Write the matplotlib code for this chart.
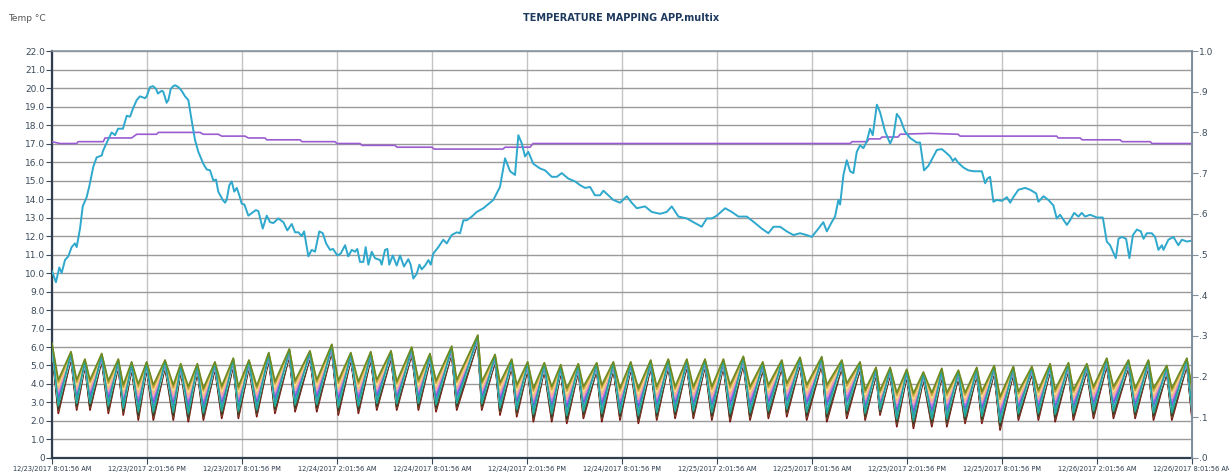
import datetime
import matplotlib
matplotlib.use('Agg')
import matplotlib.pyplot as plt

# time is hours since 12/23/2017 8:01:56 AM
ambient_t = [0.00, 0.25, 0.46, 0.61, 0.82, 1.03, 1.24, 1.45, 1.56, 1.77, 1.94, 2.19, 2.36, 2.61, 2.82,
             3.14, 3.22, 3.54, 3.77, 3.98, 4.17, 4.48, 4.72, 4.93, 5.12, 5.35, 5.56, 5.87, 5.98, 6.19,
             6.38, 6.57, 6.69, 6.93, 7.03, 7.24, 7.35, 7.50, 7.66, 7.77, 7.98, 8.19, 8.40, 8.61, 8.82,
             9.03, 9.24, 9.56, 9.77, 9.98, 10.19, 10.36, 10.50, 10.78, 10.93, 11.03, 11.20, 11.35, 11.51,
             11.67, 11.83, 11.98, 12.15, 12.40, 12.71, 12.88, 13.03, 13.31, 13.56, 13.77, 13.98, 14.29,
             14.61, 14.86, 15.14, 15.35, 15.56, 15.77, 15.92, 16.19, 16.40, 16.61, 16.88, 17.10, 17.31,
             17.56, 17.75, 18.02, 18.23, 18.51, 18.71, 18.93, 19.14, 19.28, 19.45, 19.66, 19.81, 19.98,
             20.19, 20.40, 20.72, 20.82, 21.03, 21.18, 21.30, 21.52, 21.77, 21.98, 22.23, 22.50, 22.65,
             22.82, 23.03, 23.20, 23.35, 23.56, 23.77, 23.92, 24.08, 24.40, 24.71, 24.93, 25.24, 25.56,
             25.77, 25.98, 26.19, 26.51, 26.82, 27.24, 27.87, 28.29, 28.61, 28.93, 29.24, 29.45, 29.67,
             29.87, 30.08, 30.40, 30.82, 31.14, 31.56, 31.88, 32.19, 32.61, 33.03, 33.35, 33.66, 33.98,
             34.29, 34.61, 34.82, 35.13, 35.45, 35.87, 36.30, 36.61, 36.93, 37.45, 37.88, 38.40, 38.82,
             39.14, 39.56, 40.09, 40.50, 41.03, 41.35, 41.67, 41.98, 42.51, 42.93, 43.35, 43.88, 44.40,
             44.82, 45.24, 45.56, 45.98, 46.40, 46.82, 47.24, 47.66, 47.98, 48.40, 48.71, 48.93, 49.24,
             49.45, 49.66, 49.77, 49.98, 50.19, 50.40, 50.61, 50.82, 51.03, 51.24, 51.45, 51.66, 51.83,
             52.09, 52.29, 52.61, 52.93, 53.14, 53.35, 53.56, 53.87, 54.19, 54.61, 54.82, 55.07, 55.35,
             55.66, 55.88, 56.19, 56.40, 56.72, 56.89, 57.03, 57.24, 57.56, 57.87, 58.19, 58.72, 58.93,
             59.07, 59.24, 59.45, 59.66, 59.98, 60.30, 60.51, 60.71, 61.03, 61.45, 61.77, 62.15, 62.29,
             62.61, 62.92, 63.24, 63.45, 63.66, 64.09, 64.29, 64.55, 64.82, 65.03, 65.24, 65.56, 65.98,
             66.36, 66.61, 66.82, 67.18, 67.35, 67.56, 67.83, 68.04, 68.26, 68.51, 68.76, 68.93, 69.14,
             69.45, 69.66, 69.87, 70.09, 70.19, 70.50, 70.82, 71.13, 71.35, 71.67, 71.98]
ambient_v = [10.1, 9.5, 10.3, 10.0, 10.7, 10.9, 11.4, 11.6, 11.4, 12.4, 13.6, 14.1, 14.7, 15.75, 16.25,
             16.35, 16.6, 17.2, 17.6, 17.45, 17.8, 17.8, 18.5, 18.45, 18.9, 19.35, 19.55, 19.45, 19.55, 20.05,
             20.1, 19.95, 19.7, 19.85, 19.8, 19.2, 19.35, 19.95, 20.1, 20.15, 20.05, 19.85, 19.55, 19.35, 18.25,
             17.2, 16.55, 15.9, 15.6, 15.55, 15.0, 15.05, 14.4, 13.95, 13.8, 13.95, 14.75, 14.95, 14.4,
             14.6, 14.2, 13.75, 13.7, 13.1, 13.3, 13.4, 13.35, 12.4, 13.1, 12.75, 12.7, 12.95,
             12.75, 12.3, 12.65, 12.2, 12.2, 12.0, 12.25, 10.9, 11.25, 11.15, 12.25, 12.15, 11.6,
             11.25, 11.3, 10.95, 11.05, 11.5, 10.9, 11.25, 11.15, 11.3, 10.6, 10.6, 11.4, 10.45,
             11.15, 10.8, 10.7, 10.45, 11.25, 11.3, 10.45, 10.95, 10.4, 10.95, 10.35, 10.75, 10.45,
             9.7, 9.95, 10.45, 10.2, 10.4, 10.7, 10.45, 11.05, 11.4, 11.8, 11.6, 12.05, 12.2,
             12.15, 12.85, 12.85, 13.05, 13.3, 13.5, 13.95, 14.65, 16.2, 15.5, 15.3, 17.45, 17.0,
             16.3, 16.55, 15.9, 15.65, 15.55, 15.2, 15.2, 15.4, 15.1, 14.95, 14.75, 14.6, 14.65,
             14.2, 14.2, 14.45, 14.2, 13.95, 13.8, 14.15, 13.8, 13.5, 13.6, 13.3, 13.2, 13.3,
             13.6, 13.05, 12.95, 12.75, 12.5, 12.95, 12.95, 13.1, 13.5, 13.3, 13.05, 13.05, 12.7,
             12.4, 12.15, 12.5, 12.5, 12.25, 12.05, 12.15, 12.05, 11.95, 12.4, 12.75, 12.25, 12.75,
             13.05, 13.95, 13.7, 15.3, 16.1, 15.5, 15.4, 16.55, 16.9, 16.75, 17.1, 17.8, 17.45,
             19.1, 18.7, 17.65, 17.0, 17.4, 18.6, 18.35, 17.65, 17.3, 17.05, 17.05, 15.55, 15.8,
             16.3, 16.65, 16.7, 16.55, 16.3, 16.05, 16.2, 15.95, 15.7, 15.55, 15.5, 15.5, 14.85,
             15.1, 15.2, 13.85, 13.95, 13.9, 14.1, 13.8, 14.1, 14.5, 14.6, 14.5, 14.3, 13.85,
             14.15, 13.95, 13.65, 12.95, 13.15, 12.6, 12.85, 13.25, 13.05, 13.25, 13.05, 13.15, 13.0,
             13.0, 11.7, 11.5, 10.8, 11.85, 11.95, 11.85, 10.8, 12.05, 12.35, 12.25, 11.85, 12.15,
             12.15, 11.95, 11.25, 11.5, 11.25, 11.8, 11.95, 11.5, 11.8, 11.7, 11.75]

humid_t = [0.00, 0.51, 1.56, 1.66, 3.24, 3.35, 5.03, 5.35, 6.61, 6.71, 9.35, 9.56, 10.50, 10.72,
           12.19, 12.40, 13.45, 13.56, 15.66, 15.79, 17.87, 18.00, 19.45, 19.58, 21.66, 21.79, 24.00,
           24.13, 28.48, 28.61, 30.19, 30.38, 50.40, 50.53, 51.48, 51.60, 52.29, 52.42, 53.43, 53.56,
           55.45, 57.22, 57.35, 63.45, 63.54, 64.93, 65.05, 67.45, 67.58, 69.35, 69.47, 72.00]
humid_v = [17.1, 17.0, 17.0, 17.1, 17.1, 17.3, 17.3, 17.5, 17.5, 17.6, 17.6, 17.5, 17.5, 17.4,
           17.4, 17.3, 17.3, 17.2, 17.2, 17.1, 17.1, 17.0, 17.0, 16.9, 16.9, 16.8, 16.8,
           16.7, 16.7, 16.8, 16.8, 17.0, 17.0, 17.1, 17.1, 17.25, 17.25, 17.35, 17.35, 17.5,
           17.55, 17.5, 17.4, 17.4, 17.3, 17.3, 17.2, 17.2, 17.1, 17.1, 17.0, 17.0]

# probe cycles: peak of the warmest probe, troughs of warmest / coldest probe
start_val = 6.2
peak_t = [1.20, 2.08, 3.14, 4.19, 5.03, 5.98, 7.14, 8.13, 9.18, 10.29, 11.45, 12.44, 13.69, 14.99,
          16.29, 17.67, 18.87, 20.13, 21.41, 22.72, 23.87, 25.24, 26.89, 27.98, 29.03, 30.04, 31.09,
          32.13, 33.24, 34.40, 35.45, 36.55, 37.81, 38.92, 40.09, 41.24, 42.40, 43.66, 44.89, 46.09,
          47.24, 48.61, 49.88, 51.03, 52.04, 52.93, 53.98, 55.03, 56.19, 57.24, 58.40, 59.50, 60.71,
          61.88, 63.03, 64.19, 65.35, 66.61, 67.98, 69.24, 70.40, 71.67]
peak_v = [5.75, 5.35, 5.65, 5.35, 5.2, 5.2, 5.3, 5.1, 5.1, 5.2, 5.4, 5.3, 5.7, 5.9, 5.8, 6.15, 5.7,
          5.75, 5.8, 6.0, 5.65, 6.05, 6.65, 5.6, 5.35, 5.2, 5.15, 5.05, 5.1, 5.15, 5.2, 5.2, 5.3, 5.35,
          5.35, 5.35, 5.35, 5.5, 5.2, 5.3, 5.45, 5.48, 5.3, 5.2, 4.9, 4.9, 4.8, 4.65, 4.85, 4.75, 4.9,
          5.0, 4.95, 4.95, 5.1, 5.15, 5.1, 5.4, 5.3, 5.3, 5.0, 5.4]
trough_t = [0.40, 1.56, 2.40, 3.56, 4.50, 5.45, 6.40, 7.66, 8.61, 9.56, 10.72, 11.77, 12.93, 14.08,
            15.35, 16.72, 18.08, 19.35, 20.51, 21.77, 23.14, 24.25, 25.56, 27.14, 28.29, 29.35, 30.40,
            31.56, 32.51, 33.56, 34.72, 35.87, 37.03, 38.19, 39.35, 40.50, 41.67, 42.82, 44.08, 45.24,
            46.40, 47.66, 48.93, 50.19, 51.35, 52.29, 53.35, 54.40, 55.56, 56.51, 57.66, 58.72, 59.87,
            61.03, 62.29, 63.35, 64.50, 65.77, 67.03, 68.40, 69.56, 70.72, 71.98]
trough_hi = [4.22, 4.22, 4.22, 4.18, 3.95, 4.0, 3.95, 3.95, 3.86, 3.77, 3.89, 3.86, 3.89, 4.13, 4.18,
             4.22, 4.18, 4.13, 4.22, 4.13,
             4.22, 4.18, 4.22, 4.13, 4.07, 3.95, 3.77, 3.86, 3.77, 3.86, 3.95, 3.77, 3.77, 3.86, 3.86,
             3.86, 3.86, 3.95, 3.86, 3.95, 4.04, 3.95,
             3.95, 4.04, 3.68, 3.64, 3.53, 3.5, 3.53, 3.53, 3.53, 3.59, 3.32, 3.59, 3.68, 3.71, 3.68,
             3.86, 3.86, 3.77, 3.77, 3.77, 3.86]
trough_lo = [2.41, 2.59, 2.59, 2.41, 2.32, 2.05, 2.05, 2.05, 1.96, 2.05, 2.14, 2.14, 2.23, 2.41, 2.5,
             2.5, 2.32, 2.41, 2.59, 2.59,
             2.59, 2.5, 2.59, 2.59, 2.32, 2.23, 1.96, 1.96, 1.87, 2.14, 1.96, 2.05, 1.87, 2.05, 2.14,
             2.14, 2.05, 1.96, 2.05, 2.14, 2.23, 2.05,
             1.96, 2.14, 2.05, 2.32, 1.69, 1.6, 1.69, 1.69, 1.87, 1.87, 1.51, 2.05, 2.05, 1.96, 2.05,
             2.14, 2.14, 2.14, 2.05, 2.05, 2.23]

# probes, coldest first; where each sits in the trough band and how far below the peak it stays
probe_colors = ['#7a1010', '#7a4a2a', '#3a3a2a', '#3c9a6a', '#a0e8f0', '#ffffff', '#5a78e0',
                '#8050e0', '#b07ae0', '#f0a0c0', '#f7b98a', '#f5e08a', '#c8a040', '#20a8a0', '#6e8a22']
probe_band = [1.0, 0.93, 0.86, 0.78, 0.7, 0.64, 0.56, 0.48, 0.4, 0.32, 0.24, 0.16, 0.08, 0.74, 0.0]
probe_peak_drop = [0.4, 0.35, 0.3, 0.25, 0.2, 0.22, 0.2, 0.2, 0.15, 0.12, 0.1, 0.08, 0.05, 0.05, 0.0]

start = datetime.datetime(2017, 12, 23, 8, 1, 56)
tick_hours = list(range(0, 73, 6))


def stamp(h):
    d = start + datetime.timedelta(hours=h)
    hour12 = d.hour % 12 or 12
    return f"{d.month}/{d.day}/{d.year} {hour12}:{d:%M:%S} {d:%p}"


fig = plt.figure(figsize=(12.29, 4.75), dpi=100)
ax = fig.add_axes([0.0423, 0.0358, 0.9277, 0.8568])

for color, band, drop in zip(probe_colors, probe_band, probe_peak_drop):
    ts = [0.0, trough_t[0]]
    vs = [start_val - drop, trough_hi[0] + band * (trough_lo[0] - trough_hi[0])]
    for k in range(len(peak_t)):
        ts.append(peak_t[k])
        vs.append(peak_v[k] - drop)
        ts.append(trough_t[k + 1])
        vs.append(trough_hi[k + 1] + band * (trough_lo[k + 1] - trough_hi[k + 1]))
    ax.plot(ts, vs, color=color, lw=1.2, solid_joinstyle='round', zorder=3)

ax.plot(humid_t, humid_v, color='#9a5cd0', lw=1.2, zorder=4)
ax.plot(ambient_t, ambient_v, color='#2ea8cc', lw=1.4, zorder=5)

ax.set_xlim(0, 72)
ax.set_ylim(0, 22)
ax.set_yticks(range(0, 23))
ax.set_yticklabels(['0'] + ['%.1f' % v for v in range(1, 23)])
ax.set_xticks(tick_hours)
ax.set_xticklabels([stamp(h) for h in tick_hours], family='DejaVu Sans', stretch='condensed',
                   fontsize=5.3, color='#2b3b4b')
ax.tick_params(axis='y', labelsize=6.5, labelcolor='#3b4b5b', color='#3b4b5b', length=4, pad=1)
ax.tick_params(axis='x', color='#3b4b5b', length=4, pad=1.5)
ax.grid(axis='y', color='#9a9a9a', lw=1.0)
ax.grid(axis='x', color='#c4c4c4', lw=1.0)
ax.set_axisbelow(True)
for side in ['left', 'bottom']:
    ax.spines[side].set_color('#2f3f50')
    ax.spines[side].set_linewidth(1.6)
ax.spines['top'].set_color('#8a96a0')
ax.spines['top'].set_linewidth(1.2)
ax.spines['right'].set_color('#7f8f9c')

ax2 = ax.twinx()
ax2.set_ylim(0, 1)
ax2.set_yticks([i / 10 for i in range(11)])
ax2.set_yticklabels(['.%d' % i for i in range(10)] + ['1.0'])
ax2.tick_params(axis='y', labelsize=6.5, labelcolor='#3b4b5b', color='#7f8f9c', length=4, pad=1)
ax2.spines['right'].set_color('#7f8f9c')
ax2.spines['right'].set_linewidth(1.4)
for side in ['left', 'bottom', 'top']:
    ax2.spines[side].set_visible(False)

fig.text(0.0065, 0.962, 'Temp °C', fontsize=6.5, color='#555555', va='center')
fig.text(0.505, 0.962, 'TEMPERATURE MAPPING APP.multix', fontsize=7, fontweight='bold',
         color='#1f3a5f', ha='center', va='center')

fig.savefig('out.png', dpi=100)
